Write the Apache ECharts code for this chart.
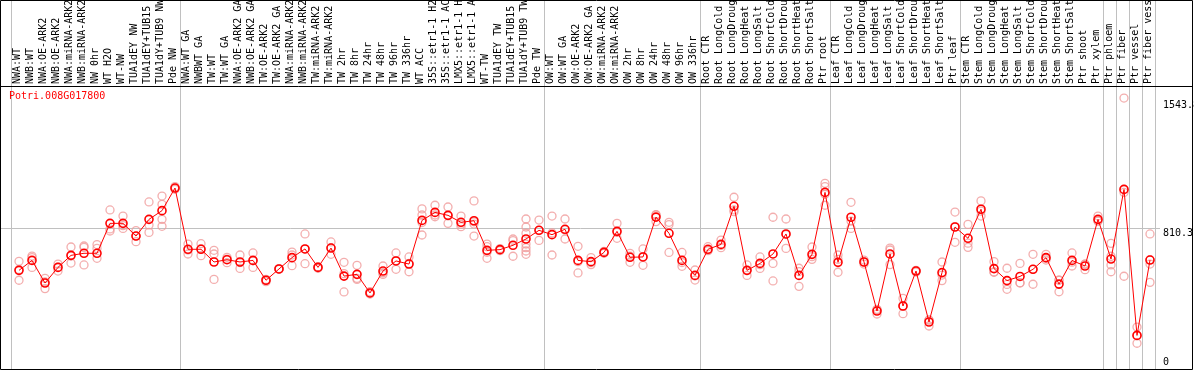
<!DOCTYPE html>
<html>
<head>
<meta charset="utf-8">
<script src="https://cdn.jsdelivr.net/npm/echarts@6/dist/echarts.min.js"></script>
<style>
html,body{margin:0;padding:0;background:#ffffff;}
#chart{width:1194px;height:370px;}
</style>
</head>
<body>
<div id="chart"></div>
<script>
const geneId = 'Potri.008G017800';

const categories = [
  'NWA:WT','NWB:WT','NWA:OE-ARK2','NWB:OE-ARK2','NWA:miRNA-ARK2','NWB:miRNA-ARK2','NW 0hr','WT H2O','WT-NW',
  'TUA1dEY NW','TUA1dEY+TUB15 NW','TUA1dY+TUB9 NW','Pde NW',
  'NWA:WT GA','NWBWT GA','TW:WT','TW:WT GA','NWA:OE-ARK2 GA','NWB:OE-ARK2 GA','TW:OE-ARK2','TW:OE-ARK2 GA',
  'NWA:miRNA-ARK2 GA','NWB:miRNA-ARK2 GA','TW:miRNA-ARK2','TW:miRNA-ARK2 GA',
  'TW 2hr','TW 8hr','TW 24hr','TW 48hr','TW 96hr','TW 336hr','WT ACC',
  '35S::etr1-1 H2O','35S::etr1-1 ACC','LMX5::etr1-1 H2O','LMX5::etr1-1 ACC','WT-TW',
  'TUA1dEY TW','TUA1dEY+TUB15 TW','TUA1dY+TUB9 TW','Pde TW',
  'OW:WT','OW:WT GA','OW:OE-ARK2','OW:OE-ARK2 GA','OW:miRNA-ARK2','OW:miRNA-ARK2 GA',
  'OW 2hr','OW 8hr','OW 24hr','OW 48hr','OW 96hr','OW 336hr',
  'Root CTR','Root LongCold','Root LongDrought','Root LongHeat','Root LongSalt',
  'Root ShortCold','Root ShortDrought','Root ShortHeat','Root ShortSalt','Ptr root',
  'Leaf CTR','Leaf LongCold','Leaf LongDrought','Leaf LongHeat','Leaf LongSalt',
  'Leaf ShortCold','Leaf ShortDrought','Leaf ShortHeat','Leaf ShortSalt','Ptr leaf',
  'Stem CTR','Stem LongCold','Stem LongDrought','Stem LongHeat','Stem LongSalt',
  'Stem ShortCold','Stem ShortDrought','Stem ShortHeat','Stem ShortSalt','Ptr shoot','Ptr xylem',
  'Ptr phloem','Ptr fiber','Ptr vessel','Ptr fiber vessel'
];

// first category index of every group (vertical separators)
const groupStarts = [0, 13, 41, 53, 63, 73, 84, 85, 86, 87];

const meanValues = [
  567, 624, 494, 584, 653, 665, 665, 837, 837, 764, 860, 910, 1040,
  688, 688, 615, 628, 615, 624, 510, 575, 640, 690, 584, 695, 534, 544, 437, 563, 621, 603, 854,
  900, 883, 843, 852, 682, 686, 711, 747, 797,
  772, 803, 624, 617, 670, 791, 642, 644, 873, 780, 624, 538,
  688, 716, 935, 567, 607, 661, 776, 538, 659, 1015,
  613, 872, 615, 333, 661, 362, 563, 270, 554, 816,
  751, 918, 577, 508, 532, 573, 640, 488, 624, 592, 860,
  632, 1032, 193, 626
];

const replicateValues = [
  [619, 572, 510], [649, 640, 584], [521, 500, 462], [603, 586, 563], [701, 649, 609],
  [707, 699, 598], [715, 693, 636], [914, 805, 793], [879, 824, 808], [795, 764, 732],
  [960, 828, 785], [994, 946, 860, 820], [1048, 1040, 1033],
  [718, 684, 661], [720, 692, 651], [682, 661, 515], [642, 631, 611], [655, 612, 578],
  [667, 622, 584], [515, 512, 502], [577, 574, 573], [672, 655, 594], [776, 689, 605],
  [588, 585, 579], [730, 697, 659], [613, 548, 443], [596, 521, 515], [444, 436, 431],
  [592, 553, 544], [667, 623, 573], [644, 607, 559], [920, 885, 842, 770],
  [941, 885, 875], [931, 881, 837], [879, 832, 818], [966, 846, 833, 764], [718, 703, 671, 636],
  [692, 686, 680], [747, 738, 648], [862, 816, 780, 718, 697, 678, 659], [856, 797, 739],
  [879, 782, 655], [862, 799, 747], [705, 617, 552], [640, 611, 600], [676, 670, 665],
  [837, 785, 751], [665, 648, 613], [690, 646, 596], [887, 885, 847], [843, 830, 670],
  [670, 612, 590], [569, 535, 511],
  [703, 682, 680], [741, 710, 697], [987, 914, 904], [598, 566, 538], [644, 600, 578],
  [872, 607, 506], [862, 773, 693], [579, 560, 475], [701, 646, 630], [1067, 1048, 1004, 941],
  [655, 630, 556], [958, 850, 808], [626, 615, 603], [343, 340, 316], [695, 684, 600],
  [406, 362, 318], [567, 565, 557], [282, 281, 247], [615, 540, 508], [902, 818, 728],
  [831, 723, 699], [966, 907, 879], [617, 558, 556], [579, 486, 458], [607, 496, 494],
  [659, 573, 487], [659, 635, 626], [511, 510, 444], [667, 614, 592], [603, 602, 571],
  [879, 851, 850],
  [722, 648, 598, 559], [1557, 1032, 1015, 533], [241, 192, 148], [776, 628, 603, 498]
];

const yTickValues = [0, 810.3, 1543.8];
const yReferenceLine = 810.3;
const yMax = 1626.35;

const MONO = "'DejaVu Sans Mono', monospace";

const chart = echarts.init(document.getElementById('chart'), null, {renderer: 'canvas'});

const scatterData = [];
replicateValues.forEach(function (arr, i) {
  arr.forEach(function (v) { scatterData.push([i, v]); });
});

function plainNumber(v) { return String(v); }

const option = {
  animation: false,
  backgroundColor: '#ffffff',
  title: {
    text: geneId,
    left: 9,
    top: 91,
    padding: 0,
    textStyle: {color: '#ff0000', fontSize: 10, fontWeight: 'normal', fontFamily: MONO}
  },
  grid: [
    {left: 11, right: 39, top: 0, bottom: 1, outerBoundsMode: 'none', containLabel: false},
    {left: 11, right: 39, top: 0, height: 86, outerBoundsMode: 'none', containLabel: false},
    {left: 1, right: 34, top: 86, bottom: 1, outerBoundsMode: 'none', containLabel: false},
    {left: 12.5, right: 37.5, top: 86, bottom: 1, outerBoundsMode: 'none', containLabel: false}
  ],
  xAxis: [
    {
      gridIndex: 0, type: 'category', data: categories, boundaryGap: true,
      axisLine: {show: false}, axisTick: {show: false}, axisLabel: {show: false},
      splitLine: {
        show: true,
        interval: function (idx) { return groupStarts.indexOf(idx) >= 0; },
        lineStyle: {color: '#c0c0c0', width: 1}
      }
    },
    {
      gridIndex: 1, type: 'category', data: categories, boundaryGap: true, position: 'bottom',
      axisLine: {show: false, onZero: false}, axisTick: {show: false}, splitLine: {show: false},
      axisLabel: {
        show: true, inside: true, rotate: 90, interval: 0, margin: 2,
        fontFamily: MONO, fontSize: 10, color: '#000000'
      }
    },
    {gridIndex: 2, type: 'value', show: false, min: 0, max: 1},
    {gridIndex: 3, type: 'category', data: categories, boundaryGap: true, show: false}
  ],
  yAxis: [
    {gridIndex: 0, type: 'value', show: false},
    {gridIndex: 1, type: 'value', show: false},
    {
      gridIndex: 2, type: 'value', position: 'right', min: 0, max: yMax,
      axisLine: {show: false},
      axisTick: {show: false, customValues: [yReferenceLine]},
      axisLabel: {
        customValues: yTickValues.filter(function (v) { return v > 0; }),
        formatter: plainNumber,
        verticalAlign: 'top', margin: 3,
        fontFamily: MONO, fontSize: 10, color: '#000000'
      },
      splitLine: {show: true, lineStyle: {color: '#c0c0c0', width: 1}}
    },
    {
      gridIndex: 2, type: 'value', position: 'right', min: 0, max: yMax,
      axisLine: {show: false},
      axisTick: {show: false},
      axisLabel: {
        customValues: yTickValues.filter(function (v) { return v === 0; }),
        formatter: plainNumber,
        verticalAlign: 'bottom', margin: 3, padding: [0, 0, 2, 0],
        fontFamily: MONO, fontSize: 10, color: '#000000'
      },
      splitLine: {show: false}
    },
    {gridIndex: 3, type: 'value', min: 0, max: yMax, show: false}
  ],
  graphic: [
    {type: 'rect', z: 100, silent: true, shape: {x: 0.5, y: 0.5, width: 1192, height: 369},
      style: {fill: null, stroke: '#000000', lineWidth: 1}},
    {type: 'line', z: 100, silent: true, shape: {x1: 0, y1: 86.5, x2: 1193, y2: 86.5},
      style: {stroke: '#000000', lineWidth: 1}}
  ],
  series: [
    {
      name: 'replicates', type: 'scatter', xAxisIndex: 3, yAxisIndex: 4,
      data: scatterData, symbol: 'circle', symbolSize: 8, silent: true,
      itemStyle: {color: 'rgba(0,0,0,0)', borderColor: '#f09a9a', borderWidth: 1.3},
      z: 2
    },
    {
      name: 'mean', type: 'line', xAxisIndex: 3, yAxisIndex: 4,
      data: meanValues, symbol: 'circle', symbolSize: 8, showAllSymbol: true, silent: true,
      lineStyle: {color: '#ff0000', width: 1},
      itemStyle: {color: 'rgba(0,0,0,0)', borderColor: '#ff0000', borderWidth: 1.6},
      z: 3
    }
  ]
};

chart.setOption(option);
</script>
</body>
</html>
